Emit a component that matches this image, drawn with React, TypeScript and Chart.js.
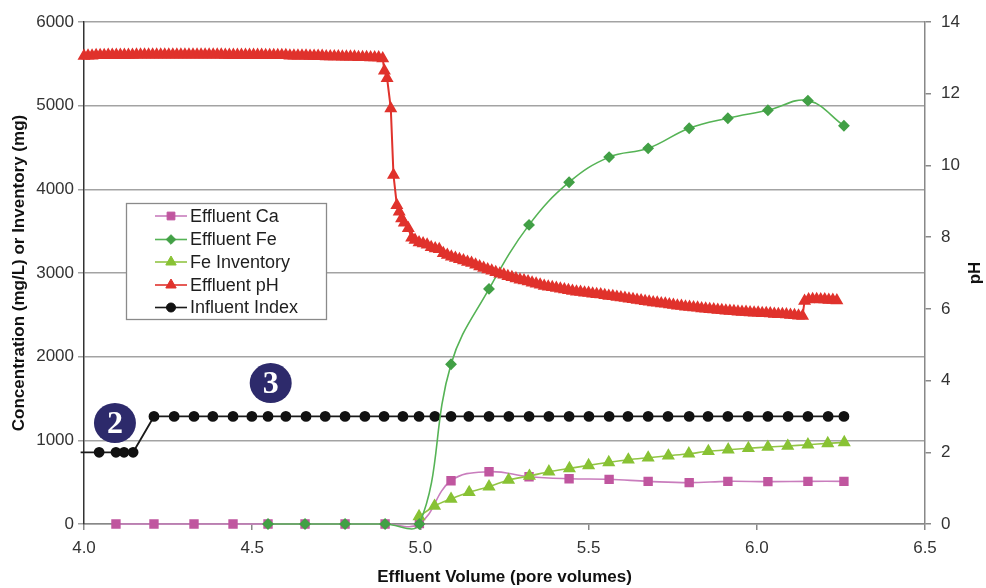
import React, { useEffect, useRef } from "react";
import { Chart, registerables } from "chart.js";
import { drawPoint } from "chart.js/helpers";

Chart.register(...registerables);

// ---- Data ----
const caVolume = [4.095, 4.208, 4.327, 4.443, 4.547, 4.657, 4.776, 4.895, 4.997, 5.091, 5.204, 5.323, 5.442, 5.561, 5.677, 5.799, 5.914, 6.033, 6.152, 6.259];
const caConc = [0, 0, 0, 0, 0, 0, 0, 0, 5, 517, 625, 565, 541, 534, 510, 494, 510, 506, 510, 510];

const feVolume = [4.547, 4.657, 4.776, 4.895, 4.997, 5.091, 5.204, 5.323, 5.442, 5.561, 5.677, 5.799, 5.914, 6.033, 6.152, 6.259];
const feConc = [0, 0, 0, 0, 0, 1910, 2810, 3575, 4085, 4385, 4490, 4730, 4850, 4945, 5060, 4760];

const feInvVolume = [4.996, 5.042, 5.091, 5.145, 5.204, 5.262, 5.324, 5.382, 5.443, 5.5, 5.56, 5.618, 5.677, 5.737, 5.798, 5.856, 5.915, 5.975, 6.033, 6.092, 6.152, 6.211, 6.26];
const feInventory = [90, 215, 299, 379, 446, 526, 574, 625, 665, 701, 737, 768, 792, 816, 840, 869, 888, 905, 920, 932, 948, 964, 976];

const influentVolume = [3.99, 4.045, 4.095, 4.119, 4.146, 4.208, 4.268, 4.327, 4.383, 4.443, 4.499, 4.547, 4.6, 4.66, 4.717, 4.776, 4.835, 4.892, 4.948, 4.996, 5.043, 5.091, 5.144, 5.204, 5.263, 5.323, 5.382, 5.442, 5.501, 5.561, 5.617, 5.677, 5.736, 5.799, 5.855, 5.914, 5.974, 6.033, 6.093, 6.152, 6.212, 6.259];
const influentIndex = [2, 2, 2, 2, 2, 3, 3, 3, 3, 3, 3, 3, 3, 3, 3, 3, 3, 3, 3, 3, 3, 3, 3, 3, 3, 3, 3, 3, 3, 3, 3, 3, 3, 3, 3, 3, 3, 3, 3, 3, 3, 3];

// Effluent pH: [pore volume, pH]
const effluentPH: [number, number][] = [
  [4.000, 13.05], [4.012, 13.06], [4.024, 13.06], [4.036, 13.07], [4.048, 13.07], [4.060, 13.07], [4.072, 13.08], [4.084, 13.08], [4.096, 13.08], [4.108, 13.08],
  [4.120, 13.08], [4.132, 13.08], [4.144, 13.08], [4.156, 13.09], [4.168, 13.09], [4.180, 13.09], [4.192, 13.09], [4.204, 13.09], [4.216, 13.09], [4.228, 13.09],
  [4.240, 13.09], [4.252, 13.09], [4.264, 13.09], [4.276, 13.09], [4.288, 13.09], [4.300, 13.09], [4.312, 13.09], [4.324, 13.09], [4.336, 13.09], [4.348, 13.09],
  [4.360, 13.09], [4.372, 13.09], [4.384, 13.09], [4.396, 13.09], [4.408, 13.09], [4.420, 13.08], [4.432, 13.08], [4.444, 13.08], [4.456, 13.08], [4.468, 13.08],
  [4.480, 13.08], [4.492, 13.08], [4.504, 13.08], [4.516, 13.08], [4.528, 13.08], [4.540, 13.07], [4.552, 13.07], [4.564, 13.07], [4.576, 13.07], [4.588, 13.07],
  [4.600, 13.07], [4.612, 13.06], [4.624, 13.06], [4.636, 13.06], [4.648, 13.06], [4.660, 13.06], [4.672, 13.05], [4.684, 13.05], [4.696, 13.05], [4.708, 13.05],
  [4.720, 13.04], [4.732, 13.04], [4.744, 13.04], [4.756, 13.04], [4.768, 13.03], [4.780, 13.03], [4.792, 13.03], [4.804, 13.03], [4.816, 13.02], [4.828, 13.02],
  [4.840, 13.02], [4.852, 13.01], [4.864, 13.01], [4.876, 13.01], [4.888, 12.98],
  [4.893, 12.64], [4.901, 12.43], [4.912, 11.59], [4.920, 9.73], [4.930, 8.89], [4.937, 8.71], [4.944, 8.52], [4.952, 8.40], [4.964, 8.25], [4.974, 7.98], [4.984, 7.92],
  [4.996, 7.85], [5.008, 7.82], [5.020, 7.79], [5.032, 7.72], [5.044, 7.68], [5.056, 7.66], [5.068, 7.55], [5.080, 7.50], [5.092, 7.45], [5.104, 7.42],
  [5.116, 7.38], [5.128, 7.35], [5.140, 7.31], [5.152, 7.28], [5.164, 7.23], [5.176, 7.18], [5.188, 7.14], [5.200, 7.10], [5.212, 7.06], [5.224, 7.02],
  [5.236, 6.98], [5.248, 6.95], [5.260, 6.91], [5.272, 6.88], [5.284, 6.85], [5.296, 6.81], [5.308, 6.79], [5.320, 6.76], [5.332, 6.73], [5.344, 6.70],
  [5.356, 6.67], [5.368, 6.64], [5.380, 6.62], [5.392, 6.60], [5.404, 6.58], [5.416, 6.56], [5.428, 6.54], [5.440, 6.52], [5.452, 6.50], [5.464, 6.48],
  [5.476, 6.47], [5.488, 6.45], [5.500, 6.44], [5.512, 6.42], [5.524, 6.41], [5.536, 6.40], [5.548, 6.38], [5.560, 6.36], [5.572, 6.35], [5.584, 6.33],
  [5.596, 6.32], [5.608, 6.30], [5.620, 6.28], [5.632, 6.27], [5.644, 6.25], [5.656, 6.23], [5.668, 6.21], [5.680, 6.20], [5.692, 6.18], [5.704, 6.17],
  [5.716, 6.15], [5.728, 6.14], [5.740, 6.12], [5.752, 6.11], [5.764, 6.09], [5.776, 6.08], [5.788, 6.06], [5.800, 6.05], [5.812, 6.04], [5.824, 6.03],
  [5.836, 6.01], [5.848, 6.00], [5.860, 5.99], [5.872, 5.98], [5.884, 5.97], [5.896, 5.96], [5.908, 5.95], [5.920, 5.94], [5.932, 5.93], [5.944, 5.92],
  [5.956, 5.91], [5.968, 5.91], [5.980, 5.90], [5.992, 5.89], [6.004, 5.89], [6.016, 5.88], [6.028, 5.88], [6.040, 5.87], [6.052, 5.86], [6.064, 5.85],
  [6.076, 5.85], [6.088, 5.84], [6.100, 5.83], [6.112, 5.82], [6.124, 5.81], [6.136, 5.80],
  [6.142, 6.22], [6.154, 6.26], [6.166, 6.27], [6.178, 6.27], [6.190, 6.26], [6.202, 6.26], [6.214, 6.25], [6.226, 6.25], [6.238, 6.23],
];

const xTicks = [4.0, 4.5, 5.0, 5.5, 6.0, 6.5];
const stageLabels = [
  { text: "2", x: 4.092, y: 1207 },
  { text: "3", x: 4.555, y: 1685 },
];

// ---- Styles ----
const FONT = "'Liberation Sans', Arial, Helvetica, sans-serif";
const C_CA = { line: "#c97dbd", point: "#c0569f" };
const C_FE = { line: "#55b355", point: "#42a046" };
const C_INV = { line: "#92c545", point: "#88c234" };
const C_PH = { line: "#e0322c", point: "#e0322c" };
const C_INF = { line: "#1a1a1a", point: "#111111" };

const pairs = (xs: number[], ys: number[]) => xs.map((x, i) => ({ x, y: ys[i] }));

const legendItems = [
  { label: "Effluent Ca", c: C_CA, style: "rect", r: 5.5 },
  { label: "Effluent Fe", c: C_FE, style: "rectRot", r: 4.8 },
  { label: "Fe Inventory", c: C_INV, style: "triangle", r: 6 },
  { label: "Effluent pH", c: C_PH, style: "triangle", r: 6 },
  { label: "Influent Index", c: C_INF, style: "circle", r: 4.5 },
];

const overlayPlugin = {
  id: "overlay",
  afterDraw(chart: any) {
    const ctx = chart.ctx as CanvasRenderingContext2D;
    const xs = chart.scales.x;
    const ys = chart.scales.y;
    ctx.save();
    // stage circles
    stageLabels.forEach((s) => {
      const px = xs.getPixelForValue(s.x);
      const py = ys.getPixelForValue(s.y);
      ctx.beginPath();
      ctx.ellipse(px, py, 21, 20, 0, 0, Math.PI * 2);
      ctx.fillStyle = "#2d2a6b";
      ctx.fill();
      ctx.fillStyle = "#ffffff";
      ctx.font = "bold 32px 'Liberation Serif', 'DejaVu Serif', serif";
      ctx.textAlign = "center";
      ctx.textBaseline = "middle";
      ctx.fillText(s.text, px, py + 2);
    });
    // legend
    const bx = 126.5, by = 203.5, bw = 200, bh = 116;
    ctx.fillStyle = "#ffffff";
    ctx.fillRect(bx, by, bw, bh);
    ctx.strokeStyle = "#8a8a8a";
    ctx.lineWidth = 1.3;
    ctx.strokeRect(bx, by, bw, bh);
    const rows = [216, 239.5, 262, 285, 307.5];
    legendItems.forEach((it, i) => {
      const y = rows[i];
      ctx.beginPath();
      ctx.strokeStyle = it.c.line;
      ctx.lineWidth = 1.6;
      ctx.moveTo(155, y);
      ctx.lineTo(187, y);
      ctx.stroke();
      ctx.fillStyle = it.c.point;
      ctx.strokeStyle = it.c.point;
      ctx.lineWidth = 1;
      drawPoint(ctx, { pointStyle: it.style as any, radius: it.r, rotation: 0, borderWidth: 1 } as any, 171, y);
      ctx.fillStyle = "#1e1e1e";
      ctx.font = `18px ${FONT}`;
      ctx.textAlign = "left";
      ctx.textBaseline = "middle";
      ctx.fillText(it.label, 190, y + 1);
    });
    // right axis title
    ctx.save();
    ctx.translate(975, 273);
    ctx.rotate(-Math.PI / 2);
    ctx.fillStyle = "#111";
    ctx.font = `bold 17px ${FONT}`;
    ctx.textAlign = "center";
    ctx.textBaseline = "middle";
    ctx.fillText("pH", 0, 0);
    ctx.restore();
    ctx.restore();
  },
};

export default function App() {
  const ref = useRef<HTMLCanvasElement>(null);
  useEffect(() => {
    document.body.style.margin = "0";
    const tickFont = { family: FONT, size: 17 };
    const titleFont = { family: FONT, size: 17, weight: "bold" as const };
    const chart = new Chart(ref.current!, {
      type: "line",
      data: {
        datasets: [
          {
            label: "Effluent pH",
            data: effluentPH.map(([x, y]) => ({ x, y })),
            yAxisID: "y1",
            borderColor: C_PH.line,
            backgroundColor: C_PH.point,
            pointBackgroundColor: C_PH.point,
            pointBorderColor: C_PH.point,
            pointStyle: "triangle",
            pointRadius: 5.5,
            borderWidth: 2,
            tension: 0,
            clip: false as any,
            order: 0,
          },
          {
            label: "Effluent Fe",
            data: pairs(feVolume, feConc),
            yAxisID: "y",
            borderColor: C_FE.line,
            pointBackgroundColor: C_FE.point,
            pointBorderColor: C_FE.point,
            pointStyle: "rectRot",
            pointRadius: 4.8,
            borderWidth: 1.6,
            tension: 0.4,
            clip: false as any,
            order: 1,
          },
          {
            label: "Influent Index",
            data: pairs(influentVolume, influentIndex),
            yAxisID: "y1",
            borderColor: C_INF.line,
            pointBackgroundColor: C_INF.point,
            pointBorderColor: C_INF.point,
            pointStyle: "circle",
            pointRadius: (c: any) => (c.dataIndex === 0 ? 0 : 4.5),
            borderWidth: 1.8,
            tension: 0,
            clip: false as any,
            order: 2,
          },
          {
            label: "Fe Inventory",
            data: pairs(feInvVolume, feInventory),
            yAxisID: "y",
            borderColor: C_INV.line,
            pointBackgroundColor: C_INV.point,
            pointBorderColor: C_INV.point,
            pointStyle: "triangle",
            pointRadius: 6,
            borderWidth: 1.6,
            tension: 0.3,
            order: 3,
          },
          {
            label: "Effluent Ca",
            data: pairs(caVolume, caConc),
            yAxisID: "y",
            borderColor: C_CA.line,
            pointBackgroundColor: C_CA.point,
            pointBorderColor: C_CA.point,
            pointStyle: "rect",
            pointRadius: 5.5,
            borderWidth: 1.6,
            tension: 0.4,
            clip: false as any,
            order: 4,
          },
        ],
      },
      options: {
        animation: false,
        responsive: true,
        maintainAspectRatio: false,
        layout: { padding: { top: 22, left: 0, right: 0, bottom: 0 } },
        elements: { line: { capBezierPoints: false } },
        plugins: { legend: { display: false }, tooltip: { enabled: false } },
        scales: {
          x: {
            type: "linear",
            min: 4,
            max: 6.5,
            afterBuildTicks: (s: any) => {
              s.ticks = xTicks.map((v) => ({ value: v }));
            },
            ticks: {
              callback: (v: any) => Number(v).toFixed(1),
              font: tickFont,
              color: "#333",
              padding: 8,
              maxRotation: 0,
            },
            grid: { drawOnChartArea: false, drawTicks: true, tickLength: 6, color: "#888", lineWidth: 1.5 },
            border: { color: "#888", width: 1.5 },
            title: {
              display: true,
              text: "Effluent Volume (pore volumes)",
              font: titleFont,
              color: "#111",
              padding: { top: 0, bottom: 0 },
            },
            afterFit: (s: any) => {
              s.height = 64;
            },
          },
          y: {
            type: "linear",
            position: "left",
            min: 0,
            max: 6000,
            ticks: { stepSize: 1000, font: tickFont, color: "#333", padding: 4, callback: (v: any) => String(v) },
            grid: { color: "#a3a3a3", lineWidth: 1.5, tickLength: 6 },
            border: { color: "#333", width: 1.5 },
            title: {
              display: true,
              text: "Concentration (mg/L) or Inventory (mg)",
              font: titleFont,
              color: "#111",
              padding: { top: 9, bottom: 0 },
            },
            afterFit: (s: any) => {
              s.width = 84;
            },
          },
          y1: {
            type: "linear",
            position: "right",
            min: 0,
            max: 14,
            ticks: { stepSize: 2, font: tickFont, color: "#333", padding: 10, callback: (v: any) => String(v) },
            grid: { drawOnChartArea: false, tickLength: 6, color: "#888", lineWidth: 1.5 },
            border: { color: "#888", width: 1.5 },
            afterFit: (s: any) => {
              s.width = 61;
            },
          },
        },
      },
      plugins: [overlayPlugin],
    } as any);
    return () => chart.destroy();
  }, []);
  return (
    <div style={{ position: "relative", width: 986, height: 588 }}>
      <canvas ref={ref} />
    </div>
  );
}
